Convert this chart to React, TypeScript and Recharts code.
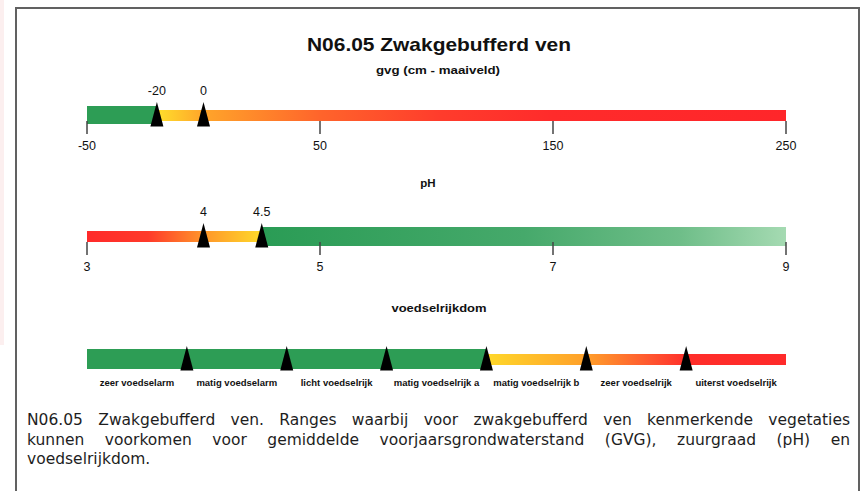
import React from 'react';
import { ComposedChart, Bar, XAxis, YAxis, ReferenceDot } from 'recharts';

// gvg (cm - maaiveld)
const gvgDomain: [number, number] = [-50, 250];
const gvgTicks = [-50, 50, 150, 250];
const gvgMarkers = [-20, 0];
const gvgOptimum: [number, number] = [-50, -20];
const gvgRest: [number, number] = [-20, 250];

// pH
const phDomain: [number, number] = [3, 9];
const phTicks = [3, 5, 7, 9];
const phMarkers = [4, 4.5];
const phRest: [number, number] = [3, 4.5];
const phOptimum: [number, number] = [4.5, 9];

// voedselrijkdom
const nutrientClasses = [
  'zeer voedselarm', 'matig voedselarm', 'licht voedselrijk', 'matig voedselrijk a',
  'matig voedselrijk b', 'zeer voedselrijk', 'uiterst voedselrijk',
];
const nutrientDomain: [number, number] = [0, 7];
const nutrientTicks = [0.5, 1.5, 2.5, 3.5, 4.5, 5.5, 6.5];
const nutrientMarkers = [1, 2, 3, 4, 5, 6];
const nutrientOptimum: [number, number] = [0, 4];
const nutrientRest: [number, number] = [4, 7];

const captionLines = [
  'N06.05 Zwakgebufferd ven. Ranges waarbij voor zwakgebufferd ven kenmerkende vegetaties',
  'kunnen voorkomen voor gemiddelde voorjaarsgrondwaterstand (GVG), zuurgraad (pH) en',
  'voedselrijkdom.',
];

const W = 863;
const MT = 35;      // room above the plot for marker labels
const PLOT_H = 30;  // plot band, bar centred in it
const AXIS_H = 30;
const H = MT + PLOT_H + AXIS_H;
const GREEN = '#2d9d55';
const SANS = '"Liberation Sans", Arial, sans-serif';

const Triangle = ({ cx, cy, label }: any) => (
  <g>
    <path d={`M${cx},${cy - 13} L${cx + 6.5},${cy + 11.5} L${cx - 6.5},${cy + 11.5} Z`} fill="#000" />
    {label != null && (
      <text x={cx} y={cy - 24} textAnchor="middle" dominantBaseline="central"
        fontFamily={SANS} fontSize={12.5} fill="#111">{label}</text>
    )}
  </g>
);

const AxisTick = ({ x, y, payload, withLine, fmt, small }: any) => (
  <g>
    {withLine && <line x1={x} x2={x} y1={y - 9} y2={y + 4} stroke="#444" strokeWidth={1.5} />}
    {small
      ? <text x={x} y={y + 8} textAnchor="middle" dominantBaseline="central" fontFamily={SANS}
          fontWeight="bold" fontSize={9.5} fill="#111">{fmt(payload.value)}</text>
      : <text x={x} y={y + 16} textAnchor="middle" dominantBaseline="central" fontFamily={SANS}
          fontSize={12.5} fill="#111">{fmt(payload.value)}</text>}
  </g>
);

interface RowProps {
  id: string;
  top: number;
  domain: [number, number];
  ticks: number[];
  thick: [number, number];
  thin: [number, number];
  thickH: number;
  thinH: number;
  thickFill: string;
  thinFill: string;
  markers: number[];
  showMarkerLabels: boolean;
  withLine: boolean;
  small?: boolean;
  fmt: (v: number) => string;
  defs: React.ReactNode;
}

const ScaleRow = (p: RowProps) => {
  const data = [{ row: p.id, thick: p.thick, thin: p.thin }];
  return (
    <div style={{ position: 'absolute', left: 0, top: p.top }}>
      <ComposedChart layout="vertical" width={W} height={H} data={data}
        margin={{ top: MT, right: W - 786, bottom: 0, left: 87 }}>
        {p.defs}
        <XAxis type="number" domain={p.domain} ticks={p.ticks} interval={0} allowDataOverflow
          axisLine={false} tickLine={false} tickSize={0} tickMargin={0} height={AXIS_H}
          tick={(t: any) => <AxisTick {...t} withLine={p.withLine} fmt={p.fmt} small={p.small} />} />
        <YAxis yAxisId="thick" type="category" dataKey="row" hide />
        <YAxis yAxisId="thin" type="category" dataKey="row" hide />
        <Bar yAxisId="thick" dataKey="thick" barSize={p.thickH} fill={p.thickFill} isAnimationActive={false} />
        <Bar yAxisId="thin" dataKey="thin" barSize={p.thinH} fill={p.thinFill} isAnimationActive={false} />
        {p.markers.map(m => (
          <ReferenceDot key={m} x={m} y={p.id} yAxisId="thin" r={12} ifOverflow="visible"
            shape={(s: any) => <Triangle cx={s.cx} cy={s.cy} label={p.showMarkerLabels ? String(m) : null} />} />
        ))}
      </ComposedChart>
    </div>
  );
};

export default function App() {
  return (
    <div style={{ position: 'absolute', left: 0, top: 0, width: W, height: 491, overflow: 'hidden', background: '#fff' }}>
      <div style={{ position: 'absolute', left: 0, top: 0, width: 4, height: 345, background: '#fcefef' }} />
      <div style={{ position: 'absolute', left: 15, top: 7, width: 841, height: 520, border: '2px solid #616161' }} />

      <ScaleRow id="gvg" top={115 - 15 - MT} domain={gvgDomain} ticks={gvgTicks}
        thick={gvgOptimum} thin={gvgRest} thickH={18} thinH={11}
        thickFill={GREEN} thinFill="url(#gvgGrad)" markers={gvgMarkers} showMarkerLabels withLine
        fmt={(v) => String(v)}
        defs={
          <defs>
            <linearGradient id="gvgGrad" x1="0" y1="0" x2="1" y2="0">
              <stop offset="0%" stopColor="#ffdf2c" />
              <stop offset="7.4%" stopColor="#ffa52a" />
              <stop offset="26%" stopColor="#ff642b" />
              <stop offset="45%" stopColor="#ff3c2c" />
              <stop offset="63%" stopColor="#ff2b2b" />
              <stop offset="100%" stopColor="#ff262a" />
            </linearGradient>
          </defs>
        } />

      <ScaleRow id="pH" top={236 - 15 - MT} domain={phDomain} ticks={phTicks}
        thick={phOptimum} thin={phRest} thickH={19} thinH={11}
        thickFill="url(#phGreen)" thinFill="url(#phRed)" markers={phMarkers} showMarkerLabels withLine
        fmt={(v) => String(v)}
        defs={
          <defs>
            <linearGradient id="phRed" x1="0" y1="0" x2="1" y2="0">
              <stop offset="0%" stopColor="#ff2a2a" />
              <stop offset="35%" stopColor="#ff3a2a" />
              <stop offset="67%" stopColor="#ff962a" />
              <stop offset="100%" stopColor="#ffda2a" />
            </linearGradient>
            <linearGradient id="phGreen" x1="0" y1="0" x2="1" y2="0">
              <stop offset="0%" stopColor="#2a9c55" />
              <stop offset="50%" stopColor="#46a96b" />
              <stop offset="80%" stopColor="#6fbe89" />
              <stop offset="100%" stopColor="#a5dab2" />
            </linearGradient>
          </defs>
        } />

      <ScaleRow id="voedselrijkdom" top={359 - 15 - MT} domain={nutrientDomain} ticks={nutrientTicks}
        thick={nutrientOptimum} thin={nutrientRest} thickH={20} thinH={11}
        thickFill={GREEN} thinFill="url(#nutGrad)" markers={nutrientMarkers} showMarkerLabels={false}
        withLine={false} small
        fmt={(v) => nutrientClasses[Math.floor(v)]}
        defs={
          <defs>
            <linearGradient id="nutGrad" x1="0" y1="0" x2="1" y2="0">
              <stop offset="0%" stopColor="#ffd82a" />
              <stop offset="33%" stopColor="#ffa02a" />
              <stop offset="55%" stopColor="#ff5530" />
              <stop offset="67%" stopColor="#ff2e2a" />
              <stop offset="100%" stopColor="#ff2a2a" />
            </linearGradient>
          </defs>
        } />

      <svg width={W} height={491} style={{ position: 'absolute', left: 0, top: 0, pointerEvents: 'none' }}>
        <text x={439} y={44} textAnchor="middle" dominantBaseline="central" fontFamily={SANS}
          fontWeight="bold" fontSize={19} textLength={264} lengthAdjust="spacingAndGlyphs" fill="#111">
          N06.05 Zwakgebufferd ven
        </text>
        <text x={438} y={70} textAnchor="middle" dominantBaseline="central" fontFamily={SANS}
          fontWeight="bold" fontSize={11.5} textLength={124} lengthAdjust="spacingAndGlyphs" fill="#111">
          gvg (cm - maaiveld)
        </text>
        <text x={428} y={183} textAnchor="middle" dominantBaseline="central" fontFamily={SANS}
          fontWeight="bold" fontSize={11.5} fill="#111">pH</text>
        <text x={439} y={308} textAnchor="middle" dominantBaseline="central" fontFamily={SANS}
          fontWeight="bold" fontSize={11.5} textLength={95} lengthAdjust="spacingAndGlyphs" fill="#111">
          voedselrijkdom
        </text>
      </svg>

      <div style={{ position: 'absolute', left: 27, top: 411, width: 823, fontFamily: '"DejaVu Sans", Verdana, sans-serif',
        fontSize: 15.5, lineHeight: '19.5px', color: '#1e1e1e' }}>
        {captionLines.map((l, i) => (
          <div key={i} style={{ textAlign: 'justify', textAlignLast: i < captionLines.length - 1 ? 'justify' : 'left' }}>{l}</div>
        ))}
      </div>
    </div>
  );
}
